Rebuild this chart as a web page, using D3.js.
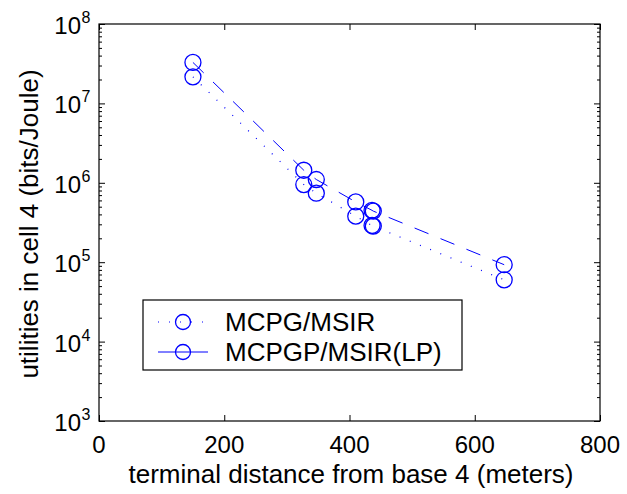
<!DOCTYPE html>
<html>
<head>
<meta charset="utf-8">
<script src="https://cdn.jsdelivr.net/npm/d3@7"></script>
<style>
  body { margin: 0; background: #fff; }
  text { font-family: "Liberation Sans", Arial, sans-serif; fill: #000; }
</style>
</head>
<body>
<svg id="chart" width="627" height="494"></svg>
<script>
// distances of the terminals (meters)
const distances = [150, 327, 347, 410, 436, 438, 647]
// utilities (bits/Joule)
const mcpg = [2.16e7, 9.5e5, 7.4e5, 3.8e5, 2.9e5, 2.85e5, 6.0e4]
const mcpgp = [3.28e7, 1.44e6, 1.1e6, 5.74e5, 4.5e5, 4.4e5, 9.3e4]
const seriesNames = ['MCPG/MSIR', 'MCPGP/MSIR(LP)']
const xTicks = [0, 200, 400, 600, 800]
const yDecades = [3, 4, 5, 6, 7, 8]

const svg = d3.select('#chart')
const plotLeft = 99, plotRight = 600, plotTop = 24, plotBottom = 421

const x = d3.scaleLinear().domain([0, 800]).range([plotLeft, plotRight])
const y = d3.scaleLog().domain([1e3, 1e8]).range([plotBottom, plotTop])

const majorY = yDecades.map(d => Math.pow(10, d))
const minorY = y.ticks().filter(v => !majorY.includes(v))

// ticks, inward on all four sides
const tickGroup = svg.append('g').attr('class', 'ticks')
tickGroup.append('g').attr('transform', `translate(0,${plotBottom})`)
  .call(d3.axisBottom(x).tickValues(xTicks).tickSize(-6).tickFormat(''))
tickGroup.append('g').attr('transform', `translate(0,${plotTop})`)
  .call(d3.axisTop(x).tickValues(xTicks).tickSize(-6).tickFormat(''))
tickGroup.append('g').attr('transform', `translate(${plotLeft},0)`)
  .call(d3.axisLeft(y).tickValues(majorY).tickSize(-6).tickFormat(''))
tickGroup.append('g').attr('transform', `translate(${plotLeft},0)`)
  .call(d3.axisLeft(y).tickValues(minorY).tickSize(-3).tickFormat(''))
tickGroup.append('g').attr('transform', `translate(${plotRight},0)`)
  .call(d3.axisRight(y).tickValues(majorY).tickSize(-6).tickFormat(''))
tickGroup.append('g').attr('transform', `translate(${plotRight},0)`)
  .call(d3.axisRight(y).tickValues(minorY).tickSize(-3).tickFormat(''))
tickGroup.selectAll('.domain').remove()
tickGroup.selectAll('line').attr('stroke', '#000').attr('stroke-width', 1)

svg.append('rect')
  .attr('x', plotLeft).attr('y', plotTop)
  .attr('width', plotRight - plotLeft).attr('height', plotBottom - plotTop)
  .attr('fill', 'none').attr('stroke', '#000').attr('stroke-width', 1.2)

// tick labels
svg.append('g').selectAll('text')
  .data(xTicks)
  .enter()
  .append('text')
  .attr('x', d => x(d))
  .attr('y', plotBottom + 32)
  .attr('text-anchor', 'middle')
  .attr('font-size', 24)
  .text(d => d)

const yLab = svg.append('g').selectAll('g')
  .data(yDecades)
  .enter()
  .append('g')
yLab.append('text')
  .attr('x', 81)
  .attr('y', d => y(Math.pow(10, d)) + 10)
  .attr('text-anchor', 'end')
  .attr('font-size', 24)
  .text('10')
yLab.append('text')
  .attr('x', 81.5)
  .attr('y', d => y(Math.pow(10, d)) - 1)
  .attr('font-size', 16)
  .text(d => d)

// axis labels
svg.append('text')
  .attr('x', 351)
  .attr('y', 483)
  .attr('text-anchor', 'middle')
  .attr('font-size', 26)
  .text('terminal distance from base 4 (meters)')

svg.append('text')
  .attr('transform', 'translate(38,224) rotate(-90)')
  .attr('text-anchor', 'middle')
  .attr('font-size', 26)
  .text('utilities in cell 4 (bits/Joule)')

// series
const blue = '#0000ff'
const styles = [
  { values: mcpg, dash: '1,10', width: 1.2 },
  { values: mcpgp, dash: '15,13', width: 1 }
]

const line = d3.line().x(d => x(d[0])).y(d => y(d[1]))

styles.forEach(s => {
  const pts = distances.map((d, i) => [d, s.values[i]])
  svg.append('path')
    .datum(pts)
    .attr('d', line)
    .attr('fill', 'none')
    .attr('stroke', blue)
    .attr('stroke-width', s.width)
    .attr('stroke-dasharray', s.dash)
  svg.append('g').selectAll('circle')
    .data(pts)
    .enter()
    .append('circle')
    .attr('cx', d => x(d[0]))
    .attr('cy', d => y(d[1]))
    .attr('r', 8)
    .attr('fill', 'none')
    .attr('stroke', blue)
    .attr('stroke-width', 1.3)
})

// legend
const legend = svg.append('g')
legend.append('rect')
  .attr('x', 143).attr('y', 300)
  .attr('width', 319).attr('height', 70)
  .attr('fill', '#fff').attr('stroke', '#000').attr('stroke-width', 1.2)

seriesNames.forEach((name, i) => {
  const cy = 322 + i * 30
  legend.append('line')
    .attr('x1', 158).attr('x2', 208)
    .attr('y1', cy).attr('y2', cy)
    .attr('stroke', blue)
    .attr('stroke-width', styles[i].width)
    .attr('stroke-dasharray', i === 0 ? '1,10' : null)
  legend.append('circle')
    .attr('cx', 183).attr('cy', cy).attr('r', 7.5)
    .attr('fill', 'none').attr('stroke', blue).attr('stroke-width', 1.3)
  legend.append('text')
    .attr('x', 225).attr('y', cy + 9)
    .attr('font-size', 26)
    .text(name)
})
</script>
</body>
</html>
